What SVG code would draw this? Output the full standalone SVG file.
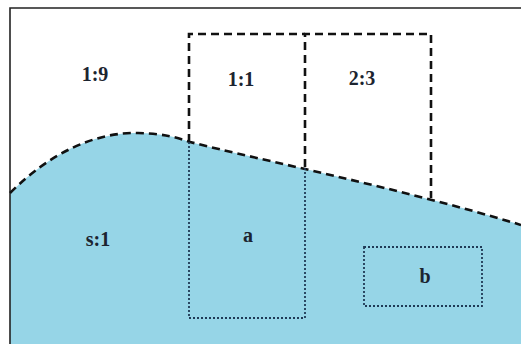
<svg xmlns="http://www.w3.org/2000/svg" width="521" height="344" viewBox="0 0 521 344">
<style>
.lbl{font-family:"Liberation Serif","Times New Roman",serif;font-weight:bold;font-size:20px;fill:#1c2430;text-anchor:middle}
.dash{fill:none;stroke:#111;stroke-width:2.6;stroke-dasharray:8 5}
.dot{fill:none;stroke:#1f3a56;stroke-width:1.8;stroke-dasharray:2 2}
</style>
<rect x="0" y="0" width="521" height="344" fill="#fff"/>
<g id="water">
<path d="M10,193 C50,153 95,132 138,133 C162,133.5 176,137 190,142 C260,160 400,188 521,225 L521,344 L10,344 Z" fill="#96d5e7"/>
</g>
<g id="frame">
<path d="M10,344 L10,8 L521,8" fill="none" stroke="#222" stroke-width="1.6"/>
</g>
<g id="connectors">
<path class="dash" d="M10,193 C50,153 95,132 138,133 C162,133.5 176,137 190,142 C260,160 400,188 521,225"/>
</g>
<g id="box-a">
<path class="dash" d="M189,142 L189,34 L305,34"/>
<path class="dot" d="M189,142 L189,318 L305,318 L305,167"/>
</g>
<g id="box-23">
<path class="dash" d="M305,167 L305,34 L431,34 L431,198"/>
</g>
<g id="box-b">
<rect class="dot" x="364" y="247" width="118" height="59"/>
</g>
<g id="labels">
<text class="lbl" x="95" y="81">1:9</text>
<text class="lbl" x="241" y="86">1:1</text>
<text class="lbl" x="362" y="85">2:3</text>
<text class="lbl" x="98" y="246">s:1</text>
<text class="lbl" x="248" y="242">a</text>
<text class="lbl" x="425" y="283">b</text>
</g>
</svg>
